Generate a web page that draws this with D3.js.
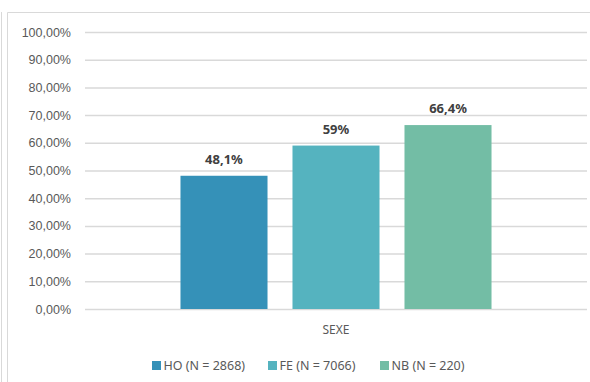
<!DOCTYPE html>
<html>
<head>
<meta charset="utf-8">
<script src="https://cdn.jsdelivr.net/npm/d3@7"></script>
<style>
  html, body { margin: 0; padding: 0; background: #fff; }
  svg { display: block; font-family: "Noto Sans", "Open Sans", sans-serif; }
</style>
</head>
<body>
<svg id="chart" width="590" height="382"></svg>
<script>
// Share by sex (proportion, 0–1)
const categories = ["SEXE"];
const series = ["HO", "FE", "NB"];
const seriesLabels = ["HO (N = 2868)", "FE (N = 7066)", "NB (N = 220)"];
const values = [0.481, 0.59, 0.664];
const valueLabels = ["48,1%", "59%", "66,4%"];
const yTicks = [0, 0.1, 0.2, 0.3, 0.4, 0.5, 0.6, 0.7, 0.8, 0.9, 1.0];
const colors = ["#3591b8", "#55b3bf", "#73bda5"];

const svg = d3.select("#chart");
const W = 590, H = 382;
const plot = { left: 85, right: 587, top: 32, bottom: 309 };

// outer frames
svg.append("line").attr("x1", 1.5).attr("x2", 1.5).attr("y1", 12).attr("y2", H)
  .attr("stroke", "#d9d9d9").attr("stroke-width", 1);
svg.append("path")
  .attr("d", `M7.5,${H} V12.5 H${W}`)
  .attr("fill", "none").attr("stroke", "#d9d9d9").attr("stroke-width", 1);

const y = d3.scaleLinear().domain([0, 1]).range([plot.bottom, plot.top]);
const x0 = d3.scaleBand().domain(categories).range([plot.left, plot.right]).paddingInner(0).paddingOuter(0.307);
const x1 = d3.scaleBand().domain(series).range([0, x0.bandwidth()]).paddingInner(0.223).paddingOuter(0);

const fmt = v => d3.format(".2f")(v * 100).replace(".", ",") + "%";

// gridlines + y axis labels
const yAxis = d3.axisLeft(y).tickValues(yTicks).tickFormat(fmt)
  .tickSize(-(plot.right - plot.left)).tickPadding(14);
const gy = svg.append("g").attr("transform", `translate(${plot.left},0)`).call(yAxis);
gy.select(".domain").remove();
gy.selectAll(".tick line").attr("stroke", "#d9d9d9").attr("stroke-width", 1.5);
gy.selectAll(".tick text").attr("fill", "#595959").attr("font-size", 12.5);

// bars
const g = svg.append("g").attr("transform", `translate(${x0(categories[0])},0)`);
g.selectAll("rect").data(values).join("rect")
  .attr("x", (d, i) => x1(series[i]))
  .attr("width", x1.bandwidth())
  .attr("y", d => y(d))
  .attr("height", d => y(0) - y(d))
  .attr("fill", (d, i) => colors[i]);

// value labels
g.selectAll("text.val").data(values).join("text").attr("class", "val")
  .attr("x", (d, i) => x1(series[i]) + x1.bandwidth() / 2)
  .attr("y", d => y(d) - 12)
  .attr("text-anchor", "middle")
  .attr("font-size", 13).attr("font-weight", "bold").attr("fill", "#404040")
  .text((d, i) => valueLabels[i]);

// category axis label
svg.append("text")
  .attr("x", x0(categories[0]) + x0.bandwidth() / 2).attr("y", 334)
  .attr("text-anchor", "middle").attr("font-size", 12).attr("fill", "#595959")
  .text(categories[0]);

// legend
const legendX = [152, 268, 380];
const lg = svg.append("g");
series.forEach((s, i) => {
  lg.append("rect").attr("x", legendX[i]).attr("y", 361).attr("width", 9).attr("height", 9)
    .attr("fill", colors[i]);
  lg.append("text").attr("x", legendX[i] + 11.5).attr("y", 369.5)
    .attr("font-size", 12.5).attr("fill", "#595959").text(seriesLabels[i]);
});
</script>
</body>
</html>
